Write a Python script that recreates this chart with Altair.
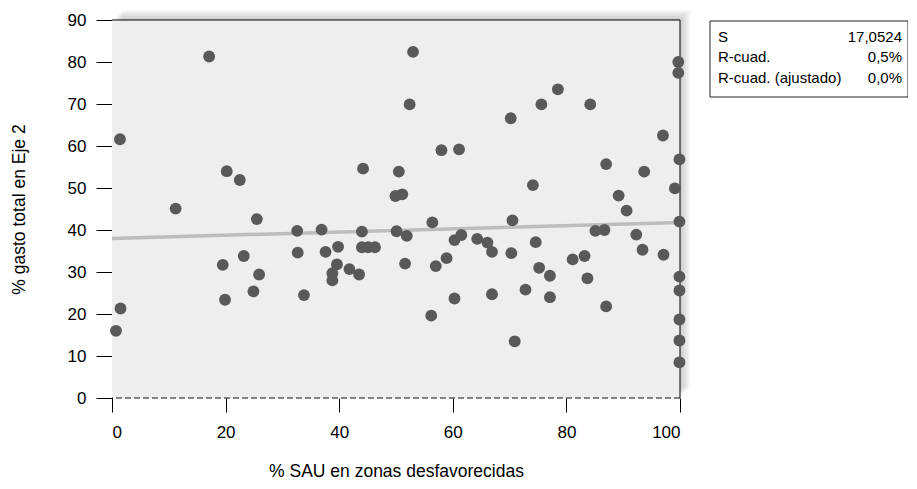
import altair as alt
import pandas as pd

# ---- data ----
x_vals = [0.7, 1.5, 1.4, 11.2, 17.1, 20.2, 22.5, 19.5, 19.9, 23.2, 24.9, 25.5, 25.9,
          32.6, 32.7, 33.8, 36.9, 37.6, 39.8, 39.6, 38.8, 38.8, 41.8, 43.5, 44.0, 44.0,
          45.1, 46.3, 44.2, 50.1, 50.5, 49.9, 51.1, 53.0, 52.4, 51.9, 51.6, 56.4, 56.2,
          57.0, 58.9, 58.0, 61.1, 60.3, 61.5, 60.3, 64.3, 66.1, 66.9, 66.9, 70.2, 70.5,
          70.3, 70.9, 72.8, 74.1, 74.6, 75.2, 75.6, 77.1, 77.1, 78.5, 81.1, 83.2, 83.7,
          84.2, 85.1, 86.7, 87.0, 87.0, 89.2, 90.6, 92.3, 93.4, 93.7, 97.0, 97.1, 99.1,
          99.7, 99.7, 99.9, 99.9, 99.9, 99.9, 99.9, 99.9, 99.9]
y_vals = [16.0, 21.3, 61.6, 45.1, 81.3, 54.0, 51.9, 31.7, 23.4, 33.8, 25.4, 42.6, 29.4,
          39.8, 34.6, 24.5, 40.1, 34.8, 36.0, 31.8, 29.7, 28.0, 30.7, 29.4, 39.6, 35.9,
          35.9, 35.9, 54.6, 39.7, 53.9, 48.1, 48.5, 82.4, 69.9, 38.6, 32.0, 41.8, 19.6,
          31.4, 33.3, 59.0, 59.2, 37.6, 38.8, 23.7, 37.9, 37.0, 34.8, 24.7, 66.6, 42.3,
          34.5, 13.5, 25.8, 50.7, 37.1, 31.0, 69.9, 29.1, 24.0, 73.5, 33.0, 33.8, 28.5,
          69.9, 39.8, 40.0, 55.7, 21.8, 48.2, 44.6, 38.9, 35.3, 53.9, 62.5, 34.1, 49.9,
          80.0, 77.4, 56.8, 42.0, 28.9, 25.6, 18.7, 13.7, 8.5]
fit_x = [0, 100]
fit_y = [38.0, 41.8]
zero_line = [0]
x_ticks = [0, 20, 40, 60, 80, 100]
y_ticks = [0, 10, 20, 30, 40, 50, 60, 70, 80, 90]
stat_labels = ["S", "R-cuad.", "R-cuad. (ajustado)"]
stat_values = ["17,0524", "0,5%", "0,0%"]
x_title = "% SAU en zonas desfavorecidas"
y_title = "% gasto total en Eje 2"

# ---- layout / style ----
W, H = 568, 378
FONT = "Liberation Sans Narrow, Liberation Sans, Arial, sans-serif"
TICK_FS = 17
TITLE_FS = 17.5
STAT_FS = 15

pts = pd.DataFrame({"x": x_vals, "y": y_vals})
fit = pd.DataFrame({"x": fit_x, "y": fit_y})
zl = pd.DataFrame({"y": zero_line})
stats = pd.DataFrame({"label": stat_labels, "value": stat_values,
                      "row": list(range(len(stat_labels)))})
one = alt.Data(values=[{"a": 1}])

xs = alt.Scale(domain=[0, 100], nice=False, zero=False)
ys = alt.Scale(domain=[0, 90], nice=False, zero=False)

x_axis = alt.Axis(values=x_ticks, domain=False, grid=False, tickColor="black",
                  tickSize=14, labelFont=FONT, labelFontSize=TICK_FS, labelColor="black",
                  labelPadding=12, title=x_title, titleFont=FONT, titleFontSize=TITLE_FS,
                  titleFontWeight="normal", titleColor="black", titleX=W / 2,
                  titleY=73, titleBaseline="middle", titleAlign="center")
y_axis = alt.Axis(values=y_ticks, domain=True, domainColor="black", grid=False,
                  tickColor="black", tickSize=16, labelFont=FONT, labelFontSize=TICK_FS,
                  labelColor="black", labelPadding=10, title=y_title, titleFont=FONT,
                  titleFontSize=TITLE_FS, titleFontWeight="normal", titleColor="black",
                  titleX=-93, titleY=H / 2, titleAngle=270, titleBaseline="middle",
                  titleAlign="center")

layers = []
# drop shadow of the plot area
for d in [2, 4, 6, 8, 10]:
    layers.append(alt.Chart(one).mark_rect(color="black", opacity=0.04).encode(
        x=alt.value(d), x2=alt.value(W + d), y=alt.value(-d), y2=alt.value(H - d)))
# plot background
layers.append(alt.Chart(one).mark_rect(color="#eeeeee").encode(
    x=alt.value(0), x2=alt.value(W), y=alt.value(0), y2=alt.value(H)))
# top and right frame
layers.append(alt.Chart(one).mark_rule(color="black", strokeWidth=1).encode(
    x=alt.value(0), x2=alt.value(W), y=alt.value(0)))
layers.append(alt.Chart(one).mark_rule(color="black", strokeWidth=1).encode(
    x=alt.value(W), y=alt.value(0), y2=alt.value(H)))
# zero reference line (dashed)
layers.append(alt.Chart(zl).mark_rule(color="#111111", strokeDash=[6, 3], strokeWidth=1).encode(
    y=alt.Y("y:Q", scale=ys, axis=y_axis)))
# fitted line
layers.append(alt.Chart(fit).mark_line(color="#bdbdbd", strokeWidth=3.5).encode(
    x=alt.X("x:Q", scale=xs, axis=x_axis), y=alt.Y("y:Q", scale=ys, axis=y_axis)))
# points
layers.append(alt.Chart(pts).mark_circle(size=140, color="#595959", opacity=1).encode(
    x=alt.X("x:Q", scale=xs, axis=x_axis), y=alt.Y("y:Q", scale=ys, axis=y_axis)))
# statistics box
BOX_L, BOX_R, BOX_T, BOX_B = 598, 796, 1, 77
layers.append(alt.Chart(one).mark_rect(fill="white", stroke="#222222", strokeWidth=1).encode(
    x=alt.value(BOX_L), x2=alt.value(BOX_R), y=alt.value(BOX_T), y2=alt.value(BOX_B)))
for i in range(len(stat_labels)):
    yy = 16.5 + i * 20.5
    base = alt.Chart(stats).transform_filter(alt.datum.row == i)
    layers.append(base.mark_text(font=FONT, fontSize=STAT_FS, color="black", align="left",
                                 baseline="middle").encode(
        text="label:N", x=alt.value(BOX_L + 8), y=alt.value(yy)))
    layers.append(base.mark_text(font=FONT, fontSize=STAT_FS, color="black", align="right",
                                 baseline="middle").encode(
        text="value:N", x=alt.value(BOX_R - 6), y=alt.value(yy)))

chart = alt.layer(*layers).properties(
    width=W, height=H,
    autosize=alt.AutoSizeParams(type="none"),
    padding={"left": 104, "top": 12, "right": 228, "bottom": 82},
).configure_view(stroke="transparent")

chart.save("out.html", embed_options={"renderer": "svg", "actions": False})
